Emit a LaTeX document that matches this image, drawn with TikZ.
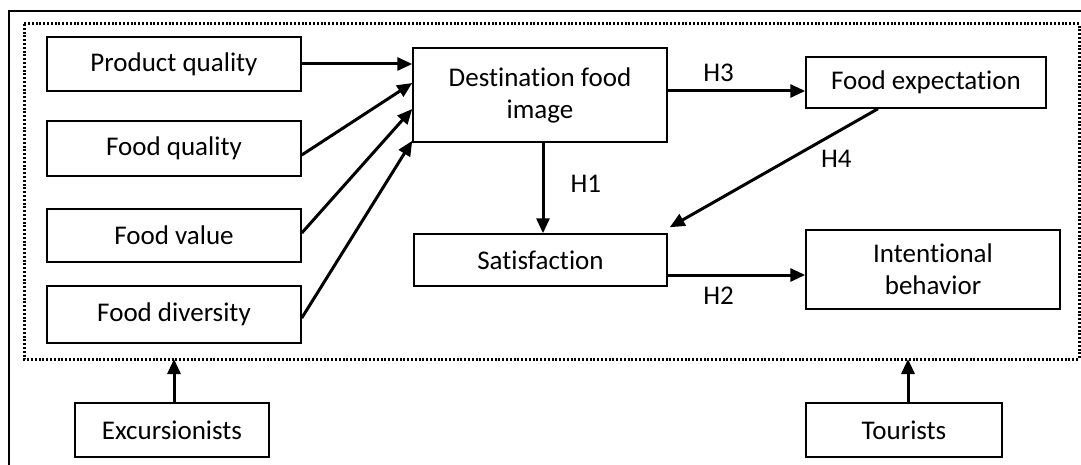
\documentclass[tikz,border=0pt]{standalone}
\usepackage{fontspec}
\setmainfont[Ligatures=NoCommon]{Carlito}
\usetikzlibrary{arrows.meta}
\tikzstyle{box} = [draw, line width=0.75pt, align=center, inner sep=0pt, font=\fontsize{13.5}{16}\selectfont]
\tikzstyle{label} = [font=\fontsize{13.5}{16}\selectfont, inner sep=0pt]
\tikzset{
  line/.style ={draw, line width=1.5pt, -{Triangle[length=7.5pt,width=6.5pt]}, shorten >=0pt}
}

\begin{document}
\begin{tikzpicture}[x=0.5pt,y=-0.5pt]
	\useasboundingbox (0,0) rectangle (1081,465);
	% frames
	\draw [line width=1pt] (9,465) -- (9,11) -- (1081,11);
	\draw [line width=1.5pt, dash pattern=on 1pt off 0.9pt] (24,24) rectangle (1079,359);
	\coordinate (groupexc) at (174,359);
	\coordinate (grouptour) at (908,359);

	% antecedents
	\node [box, minimum width=127pt, minimum height=27pt] (product) at (174,64) {Product quality};
	\node [box, minimum width=127pt, minimum height=27.5pt] (quality) at (174,148.5) {Food quality};
	\node [box, minimum width=127pt, minimum height=26.5pt] (value) at (174,235.5) {Food value};
	\node [box, minimum width=127pt, minimum height=28.5pt] (diversity) at (174,314.5) {Food diversity};

	% model
	\node [box, minimum width=127pt, minimum height=47pt] (image) at (540,95) {Destination food\\image};
	\node [box, minimum width=120pt, minimum height=25.5pt] (expect) at (926,82.5) {Food expectation};
	\node [box, minimum width=126.5pt, minimum height=26pt] (satis) at (540.5,260) {Satisfaction};
	\node [box, minimum width=127pt, minimum height=39.5pt] (intent) at (933,269.5) {Intentional\\behavior};

	% groups
	\node [box, minimum width=97pt, minimum height=27pt] (excur) at (172,430) {Excursionists};
	\node [box, minimum width=98pt, minimum height=27pt] (tour) at (904,430) {Tourists};

	\coordinate (h3) at ([yshift=2pt]image.east);
	\coordinate (h2) at ([yshift=-7.5pt]satis.east);

	\draw [line] (product.east) -- (image.west |- product.east);
	\draw [line] ([yshift=-3.25pt]quality.east) -- ([yshift=6pt]image.west);
	\draw [line] ([yshift=1.25pt]value.east) -- ([yshift=-7pt]image.west);
	\draw [line] ([yshift=-1.75pt]diversity.east) -- ([yshift=1pt]image.south west);

	\draw [line] (image.south -| 543,0) -- node[label, right=13pt, pos=0.45] {H1} (satis.north -| 543,0);
	\draw [line] (h3) -- node[label, above=4pt, xshift=-9pt] {H3} (expect.west |- h3);
	\draw [line] (expect.south -| 878,0) -- node[label, pos=0.2, below=8pt] {H4} ([xshift=1pt,yshift=3pt]satis.north east);
	\draw [line] (h2) -- node[label, below=5pt, xshift=-9pt] {H2} (intent.west |- h2);

	\draw [line] (excur.north -| groupexc) -- (groupexc);
	\draw [line] (tour.north -| grouptour) -- (grouptour);
\end{tikzpicture}
\end{document}
